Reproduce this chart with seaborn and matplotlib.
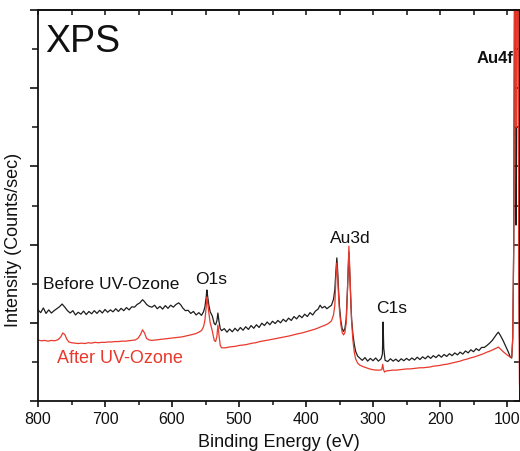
import numpy as np
import pandas as pd
import matplotlib
matplotlib.use("Agg")
import matplotlib.pyplot as plt
from matplotlib.ticker import MultipleLocator, NullFormatter
import seaborn as sns

# Survey spectrum before UV-ozone treatment (binding energy in eV, intensity in arb. units)
before_ev = [800, 796, 792, 788, 784, 780, 776, 772, 768, 764, 760, 756, 752, 748, 744, 740,
             736, 732, 728, 724, 720, 716, 712, 708, 704, 700, 696, 692, 688, 684, 680, 676,
             672, 668, 664, 660, 656, 652, 648, 644, 641, 638, 634, 630, 626, 622, 618, 614,
             610, 606, 602, 598, 594, 590, 587, 584, 580, 576, 572, 568, 564, 560, 556, 553,
             551, 549, 548, 547, 545, 543, 540, 537, 535, 533, 531.5, 530, 528, 526, 522, 518,
             514, 510, 506, 502, 498, 494, 490, 486, 482, 478, 474, 470, 466, 462, 458, 454,
             450, 446, 442, 438, 434, 430, 426, 422, 418, 414, 410, 406, 402, 398, 394, 390,
             386, 382, 379, 376, 372, 369, 366, 362, 359, 357, 355.5, 354, 353, 351.5, 350, 348,
             346, 344, 342, 340, 338.5, 337, 336, 335, 333.5, 332, 330, 328, 326, 323, 320, 316,
             312, 308, 304, 300, 296, 292, 288, 286, 285, 284, 282, 278, 274, 270, 266, 262,
             258, 254, 250, 246, 242, 238, 234, 230, 226, 222, 218, 214, 210, 206, 202, 198,
             194, 190, 186, 182, 178, 174, 170, 166, 162, 158, 154, 150, 146, 142, 138, 134,
             130, 126, 122, 118, 115, 113, 110, 106, 102, 98, 95, 93, 91.5, 90, 89, 88,
             87, 86.5, 86, 85, 84.3, 83.5, 82.5, 81.5, 81]
before_int = [2.33, 2.26, 2.38, 2.24, 2.33, 2.25, 2.31, 2.36, 2.41, 2.48, 2.40, 2.31, 2.25, 2.31, 2.20, 2.27,
              2.22, 2.30, 2.21, 2.29, 2.23, 2.31, 2.24, 2.32, 2.25, 2.34, 2.27, 2.33, 2.28, 2.36, 2.29, 2.37,
              2.31, 2.39, 2.33, 2.41, 2.40, 2.47, 2.51, 2.59, 2.54, 2.47, 2.42, 2.40, 2.45, 2.36, 2.42, 2.35,
              2.44, 2.37, 2.45, 2.40, 2.47, 2.51, 2.46, 2.38, 2.31, 2.32, 2.24, 2.29, 2.20, 2.26, 2.19, 2.28,
              2.40, 2.65, 2.84, 2.70, 2.45, 2.28, 2.18, 1.98, 1.95, 2.05, 2.25, 2.05, 1.85, 1.80, 1.85, 1.76,
              1.84, 1.77, 1.86, 1.79, 1.88, 1.81, 1.90, 1.83, 1.93, 1.86, 1.95, 1.88, 1.99, 1.93, 2.02, 1.95,
              2.04, 1.98, 2.06, 2.00, 2.09, 2.03, 2.12, 2.06, 2.16, 2.10, 2.19, 2.13, 2.22, 2.16, 2.26, 2.20,
              2.30, 2.35, 2.45, 2.38, 2.42, 2.36, 2.40, 2.45, 2.60, 2.85, 3.30, 3.66, 3.40, 2.85, 2.40, 2.05,
              1.85, 1.78, 1.85, 2.10, 2.70, 3.40, 3.81, 3.40, 2.70, 2.10, 1.70, 1.45, 1.27, 1.15, 1.10, 1.04,
              1.11, 1.02, 1.09, 1.03, 1.10, 1.02, 1.08, 1.20, 2.02, 1.35, 1.04, 1.01, 1.08, 1.02, 1.07, 1.01,
              1.08, 1.03, 1.09, 1.04, 1.10, 1.05, 1.12, 1.06, 1.13, 1.08, 1.15, 1.09, 1.16, 1.11, 1.18, 1.12,
              1.19, 1.14, 1.21, 1.16, 1.23, 1.18, 1.25, 1.20, 1.28, 1.23, 1.31, 1.26, 1.34, 1.29, 1.37, 1.37,
              1.42, 1.48, 1.55, 1.65, 1.72, 1.76, 1.68, 1.55, 1.40, 1.25, 1.12, 1.10, 1.60, 4.0, 9.0, 20.0,
              12.0, 4.5, 6.0, 14.0, 20.0, 12.0, 4.0, 1.8, 1.3]

# Survey spectrum after UV-ozone treatment
after_ev = [800, 795, 790, 785, 780, 775, 770, 766, 763, 760, 757, 754, 750, 745, 740, 735,
            730, 725, 720, 715, 710, 705, 700, 695, 690, 685, 680, 675, 670, 665, 660, 655,
            651, 647, 644, 641, 638, 634, 630, 625, 620, 615, 610, 605, 600, 595, 590, 585,
            580, 575, 570, 565, 560, 556, 553, 551, 549, 548, 547, 545, 543, 540, 537, 535,
            533, 531.5, 530, 528, 526, 520, 515, 510, 505, 500, 495, 490, 485, 480, 475, 469,
            462, 456, 450, 444, 438, 432, 426, 419, 412, 406, 400, 394, 388, 383, 379, 373,
            369, 366, 362, 359, 357, 355.5, 354, 353, 351.5, 350, 348, 346, 344, 342, 340, 338.5,
            337, 336, 335, 333.5, 332, 330, 328, 326, 323, 320, 315, 310, 305, 300, 295, 290,
            287, 285.5, 284.5, 283, 280, 275, 270, 265, 260, 255, 250, 245, 240, 235, 230, 225,
            220, 215, 210, 205, 200, 195, 190, 185, 180, 175, 170, 165, 160, 155, 150, 145,
            140, 135, 130, 125, 120, 115, 113, 110, 105, 100, 95, 93, 91.5, 90, 89, 88,
            87, 86.5, 86, 85, 84.3, 83.5, 82.5, 81.5, 81]
after_int = [1.56, 1.54, 1.55, 1.53, 1.55, 1.54, 1.57, 1.64, 1.74, 1.70, 1.58, 1.51, 1.49, 1.48, 1.47, 1.48,
             1.47, 1.49, 1.48, 1.50, 1.49, 1.50, 1.50, 1.51, 1.51, 1.52, 1.52, 1.53, 1.53, 1.54, 1.55, 1.56,
             1.60, 1.70, 1.82, 1.74, 1.60, 1.56, 1.55, 1.56, 1.57, 1.58, 1.59, 1.60, 1.61, 1.62, 1.63, 1.64,
             1.66, 1.68, 1.70, 1.72, 1.76, 1.80, 1.90, 2.05, 2.40, 2.66, 2.55, 2.25, 2.00, 1.80, 1.55, 1.52,
             1.65, 1.94, 1.70, 1.42, 1.36, 1.36, 1.38, 1.39, 1.40, 1.42, 1.43, 1.44, 1.46, 1.48, 1.49, 1.52,
             1.54, 1.56, 1.58, 1.60, 1.62, 1.64, 1.66, 1.69, 1.72, 1.74, 1.77, 1.80, 1.83, 1.86, 1.89, 1.93,
             1.96, 1.99, 2.05, 2.20, 2.45, 3.10, 3.53, 3.25, 2.70, 2.30, 1.95, 1.75, 1.69, 1.75, 2.00, 2.65,
             3.45, 3.96, 3.50, 2.75, 2.05, 1.55, 1.25, 1.08, 0.97, 0.92, 0.88, 0.85, 0.82, 0.80, 0.79, 0.79,
             0.80, 0.94, 0.82, 0.74, 0.77, 0.78, 0.79, 0.79, 0.80, 0.81, 0.82, 0.82, 0.83, 0.84, 0.85, 0.85,
             0.86, 0.87, 0.89, 0.90, 0.91, 0.93, 0.94, 0.96, 0.98, 1.00, 1.02, 1.05, 1.07, 1.10, 1.12, 1.15,
             1.18, 1.21, 1.25, 1.28, 1.32, 1.36, 1.38, 1.33, 1.25, 1.18, 1.12, 1.13, 1.60, 4.0, 9.0, 20.0,
             13.0, 7.0, 8.0, 15.0, 22.0, 12.0, 3.0, 0.5, 0.23]

x_ticks = [800, 700, 600, 500, 400, 300, 200, 100]

BLACK = "#1c1f1c"
RED = "#e8392c"
INK = "#111111"

sns.set_theme(style="ticks")
plt.rcParams["font.family"] = ["Liberation Sans", "DejaVu Sans"]

df_before = pd.DataFrame({"ev": before_ev, "counts": before_int})
df_after = pd.DataFrame({"ev": after_ev, "counts": after_int})

fig = plt.figure(figsize=(5.2, 4.52), dpi=100)
ax = fig.add_axes([38 / 520, 1 - 402 / 452, (519.5 - 38) / 520, (402 - 11) / 452])

sns.lineplot(data=df_before, x="ev", y="counts", ax=ax, color=BLACK, lw=0.9,
             estimator=None, sort=False)
sns.lineplot(data=df_after, x="ev", y="counts", ax=ax, color=RED, lw=0.9,
             estimator=None, sort=False)

ax.set_xlim(800, 81.4)
ax.set_ylim(0, 10)

for side in ["left", "right", "top", "bottom"]:
    ax.spines[side].set_visible(True)
    ax.spines[side].set_linewidth(1.3)
    ax.spines[side].set_color(INK)

ax.set_xticks(x_ticks)
ax.set_xticklabels([str(v) for v in x_ticks])
ax.xaxis.set_minor_locator(MultipleLocator(50))
ax.yaxis.set_major_locator(MultipleLocator(2))
ax.yaxis.set_minor_locator(MultipleLocator(1))
ax.yaxis.set_major_formatter(NullFormatter())

ax.tick_params(axis="x", which="major", direction="out", length=4.5, width=1.2,
               labelsize=11.5, pad=3, colors=INK, bottom=True, top=False)
ax.tick_params(axis="x", which="minor", direction="out", length=3, width=1.1,
               bottom=True, top=False, colors=INK)
ax.tick_params(axis="y", which="major", direction="out", length=6, width=1.2,
               left=True, right=False, colors=INK)
ax.tick_params(axis="y", which="minor", direction="out", length=4.5, width=1.1,
               left=True, right=False, colors=INK)

# mirrored ticks on top and right pointing into the frame
top = ax.secondary_xaxis("top")
top.set_xticks(x_ticks)
top.xaxis.set_minor_locator(MultipleLocator(50))
top.xaxis.set_major_formatter(NullFormatter())
top.tick_params(which="both", direction="in", length=3.5, width=1.1, colors=INK)
top.spines["top"].set_linewidth(1.3)

right = ax.secondary_yaxis("right")
right.yaxis.set_major_locator(MultipleLocator(2))
right.yaxis.set_minor_locator(MultipleLocator(1))
right.yaxis.set_major_formatter(NullFormatter())
right.tick_params(which="both", direction="in", length=4, width=1.1, colors=INK)

ax.set_xlabel("Binding Energy (eV)", fontsize=13, labelpad=5, color=INK)
ax.set_ylabel("Intensity (Counts/sec)", fontsize=13, color=INK)
ax.yaxis.set_label_coords(-0.033, 0.414)

ax.text(789.6, 8.95, "XPS", fontsize=27, ha="left", va="baseline", color=INK)
ax.text(91.0, 8.67, "Au4f", fontsize=12, fontweight="bold", ha="right", va="baseline", color=INK)
ax.text(334.3, 4.07, "Au3d", fontsize=12.5, ha="center", va="baseline", color=INK)
ax.text(271.6, 2.28, "C1s", fontsize=12.5, ha="center", va="baseline", color=INK)
ax.text(541.8, 3.02, "O1s", fontsize=12.5, ha="center", va="baseline", color=INK)
ax.text(792.5, 2.89, "Before UV-Ozone", fontsize=12.5, ha="left", va="baseline", color=INK)
ax.text(771.6, 1.0, "After UV-Ozone", fontsize=13, ha="left", va="baseline", color=RED)

fig.savefig("out.png", dpi=100)
